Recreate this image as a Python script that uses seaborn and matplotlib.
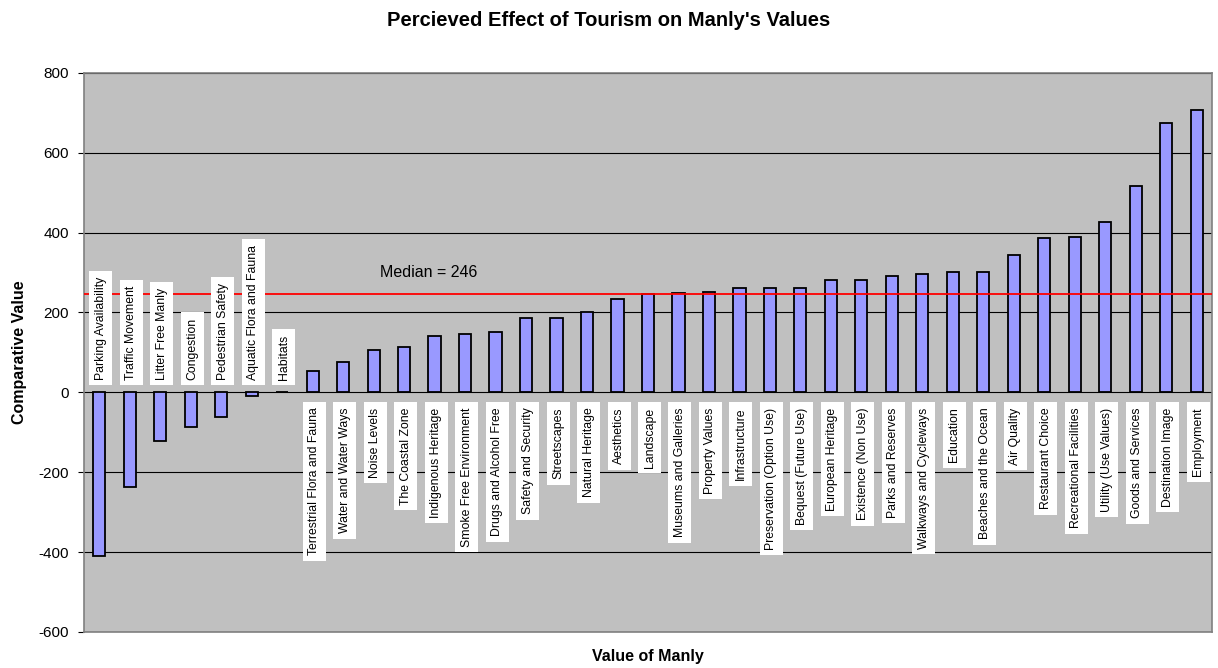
import matplotlib
matplotlib.use("Agg")
import matplotlib.pyplot as plt
import seaborn as sns
import pandas as pd

categories = [
    "Parking Availability", "Traffic Movement", "Litter Free Manly", "Congestion",
    "Pedestrian Safety", "Aquatic Flora and Fauna", "Habitats",
    "Terrestrial Flora and Fauna", "Water and Water Ways", "Noise Levels",
    "The Coastal Zone", "Indigenous Heritage", "Smoke Free Environment",
    "Drugs and Alcohol Free", "Safety and Security", "Streetscapes",
    "Natural Heritage", "Aesthetics", "Landscape", "Museums and Galleries",
    "Property Values", "Infrastructure", "Preservation (Option Use)",
    "Bequest (Future Use)", "European Heritage", "Existence (Non Use)",
    "Parks and Reserves", "Walkways and Cycleways", "Education",
    "Beaches and the Ocean", "Air Quality", "Restaurant Choice",
    "Recreational Facilities", "Utility (Use Values)", "Goods and Services",
    "Destination Image", "Employment",
]
values = [
    -411, -238, -123, -86, -61, -9, 2,
    54, 77, 106, 113, 140, 146, 150, 187, 187, 202,
    233, 246, 249, 251, 262, 262, 262, 280, 280, 290,
    297, 301, 301, 344, 386, 389, 427, 517, 674, 706,
]
median_value = 246
y_ticks = [-600, -400, -200, 0, 200, 400, 600, 800]

df = pd.DataFrame({"Value": categories, "Score": values})

sns.set_style("white")
plt.rcParams["font.family"] = ["Liberation Sans", "DejaVu Sans"]
plt.rcParams["text.color"] = "black"
plt.rcParams["axes.labelcolor"] = "black"
plt.rcParams["ytick.color"] = "black"
plt.rcParams["ytick.labelcolor"] = "black"

fig = plt.figure(figsize=(12.18, 6.68), dpi=100)
ax = fig.add_axes([0.069, 0.054, 0.926, 0.837])
ax.set_facecolor("#C0C0C0")

ax.set_axisbelow(True)
for t in y_ticks:
    ax.axhline(t, color="black", linewidth=0.8, zorder=0)

sns.barplot(data=df, x="Value", y="Score", color="#9999FF", saturation=1,
            edgecolor="black", linewidth=1.3, width=0.4, ax=ax, zorder=2)

ax.axhline(median_value, color="#FF0000", linewidth=1.3, zorder=3)
ax.text(9.2, 301, f"Median = {median_value}", fontsize=11.5, ha="left",
        va="center", color="black", zorder=4)

# category names in white boxes on the opposite side of the zero line
label_box = dict(boxstyle="square,pad=0.45", fc="white", ec="none")
for i, (name, v) in enumerate(zip(categories, values)):
    if v < 0 or name == "Habitats":
        ax.annotate(name, xy=(i + 0.05, 0), xytext=(0, 9), textcoords="offset points",
                    rotation=90, ha="center", va="bottom", fontsize=8.8, zorder=5,
                    color="black", bbox=label_box)
    else:
        ax.annotate(name, xy=(i + 0.05, 0), xytext=(0, -11), textcoords="offset points",
                    rotation=90, ha="center", va="top", fontsize=8.8, zorder=5,
                    color="black", bbox=label_box)

ax.set_ylim(-600, 800)
ax.set_xlim(-0.5, len(categories) - 0.5)
ax.set_yticks(y_ticks)
ax.set_yticklabels([str(t) for t in y_ticks], fontsize=11)
ax.set_xticks([])
ax.tick_params(axis="y", length=4, width=0.8, color="black", direction="out",
               left=True, pad=7)
for side in ["top", "right", "bottom", "left"]:
    ax.spines[side].set_visible(True)
    ax.spines[side].set_color("#808080")
    ax.spines[side].set_linewidth(1.2)

ax.set_xlabel("Value of Manly", fontsize=11.5, fontweight="bold", labelpad=12)
ax.set_ylabel("Comparative Value", fontsize=11.5, fontweight="bold", labelpad=8)
fig.suptitle("Percieved Effect of Tourism on Manly's Values", fontsize=14.5,
             fontweight="bold", y=0.983)

fig.savefig("out.png", dpi=100, facecolor="white")
